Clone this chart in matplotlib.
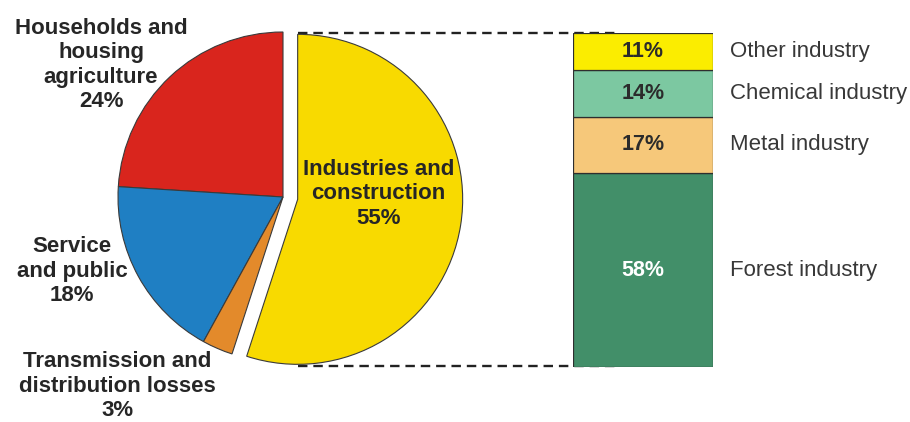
import matplotlib
matplotlib.use("Agg")
import matplotlib.pyplot as plt
import matplotlib.transforms as mtransforms
import numpy as np

plt.rcParams['font.family'] = ['Liberation Sans', 'DejaVu Sans']

# Electricity use by sector (%)
sectors = ["Households and\nhousing\nagriculture", "Service\nand public",
           "Transmission and\ndistribution losses", "Industries and\nconstruction"]
sector_share = [24, 18, 3, 55]
sector_colors = ["#d9251d", "#1f7fc3", "#e38a2b", "#f8da00"]

# Breakdown of the industry share (%), bottom to top
industries = ["Forest industry", "Metal industry", "Chemical industry", "Other industry"]
industry_share = [58, 17, 14, 11]
industry_colors = ["#428f69", "#f6c87a", "#7cc8a1", "#fbed00"]
industry_text = ["white", "#2b2b2b", "#2b2b2b", "#2b2b2b"]

W, H = 910, 422
fig = plt.figure(figsize=(W / 100, H / 100), dpi=100)

def px_axes(x0, y0, w, h, **kw):
    # axes placed by pixel box (top-left origin)
    return fig.add_axes([x0 / W, (H - y0 - h) / H, w / W, h / H], **kw)

# pie
R = 165
cx, cy = 283, 197
ax_pie = px_axes(cx - R, cy - R, 2 * R, 2 * R)
explode = [0, 0, 0, 0.09]
wedges, _ = ax_pie.pie(sector_share, colors=sector_colors, startangle=90,
                       counterclock=True, explode=explode, radius=1,
                       wedgeprops=dict(edgecolor="#3a3a3a", linewidth=0.8))
ax_pie.set_xlim(-1, 1)
ax_pie.set_ylim(-1, 1)
ax_pie.set_aspect("equal")
ax_pie.axis("off")

# stacked bar
bx, by, bw, bh = 573, 33, 140, 334
ax_bar = px_axes(bx, by, bw, bh)
label_tr = mtransforms.blended_transform_factory(ax_bar.transAxes, ax_bar.transData)
bottom = 0
for val, col, name, tc in zip(industry_share, industry_colors, industries, industry_text):
    ax_bar.bar(0, val, bottom=bottom, width=1, color=col,
               edgecolor="#2e2e2e", linewidth=0.9)
    mid = bottom + val / 2
    ax_bar.text(0, mid, f"{val}%", ha="center", va="center",
                fontsize=15.5, fontweight="bold", color=tc)
    ax_bar.text(1.12, mid, name, ha="left", va="center", fontsize=16,
                color="#383838", transform=label_tr)
    bottom += val
ax_bar.set_xlim(-0.5, 0.5)
ax_bar.set_ylim(0, sum(industry_share))
ax_bar.axis("off")

# overlay in pixel coordinates for connectors and labels
ov = fig.add_axes([0, 0, 1, 1], zorder=-1)
ov.set_xlim(0, W)
ov.set_ylim(H, 0)
ov.axis("off")

# connector lines from the exploded slice to the bar
shift = 0.09 * R * np.cos(np.deg2rad(351))
ov.plot([cx + shift, 617], [33, 33], ls=(0, (4, 2.5)), color="#222222", lw=1.7)
ov.plot([cx + shift, 617], [366, 366], ls=(0, (4, 2.5)), color="#222222", lw=1.7)

lab = dict(fontsize=16, fontweight="bold", color="#262626", ha="center",
           va="center", linespacing=1.22)
ov.text(101, 65, f"{sectors[0]}\n{sector_share[0]}%", **lab)
ov.text(72, 271, f"{sectors[1]}\n{sector_share[1]}%", **lab)
ov.text(117, 386, f"{sectors[2]}\n{sector_share[2]}%", **lab)
ax_pie.text(0.58, 0.02, f"{sectors[3]}\n{sector_share[3]}%", **lab)

fig.savefig("out.png", dpi=100)
